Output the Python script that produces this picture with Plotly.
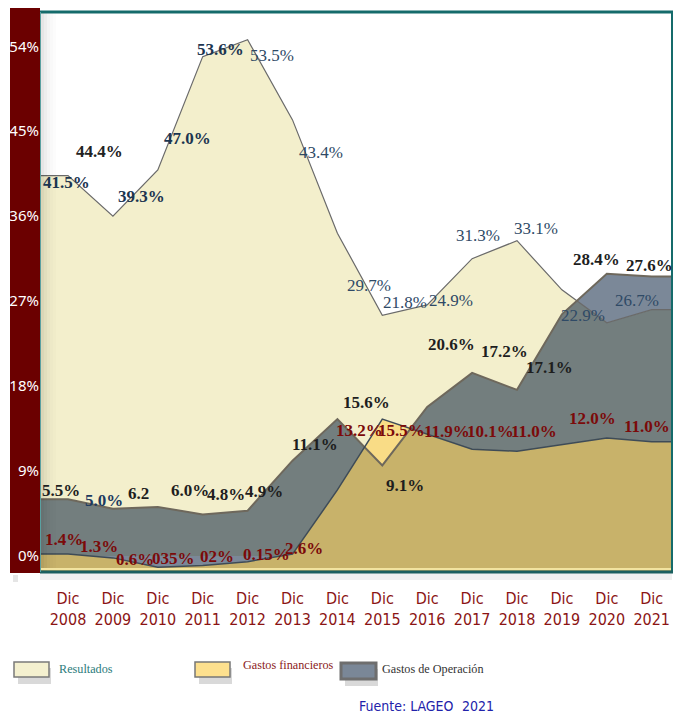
import numpy as np
import plotly.graph_objects as go

# ---------------- data (values read from the drawn shapes, % of y axis) ----------------
years = ["2008", "2009", "2010", "2011", "2012", "2013", "2014",
         "2015", "2016", "2017", "2018", "2019", "2020", "2021"]
x_labels = ["Dic<br>" + y for y in years]

resultados = [40.3, 36.0, 40.9, 52.9, 54.7, 46.2, 34.2, 25.5, 26.6, 31.5, 33.4, 28.2, 24.7, 26.1]
gastos_operacion = [6.0, 5.0, 5.2, 4.4, 4.8, 10.1, 14.5, 9.6, 15.8, 19.4, 17.6, 25.6, 29.9, 29.6]
gastos_financieros = [0.2, -0.2, -1.2, -1.0, -0.6, 0.2, 7.0, 14.5, 12.9, 11.3, 11.1, 11.8, 12.5, 12.1]

resultados_labels = ["41.5%", "44.4%", "39.3%", "47.0%", "53.6%", "53.5%", "43.4%",
                     "29.7%", "21.8%", "24.9%", "31.3%", "33.1%", "22.9%", "26.7%"]
operacion_labels = ["5.5%", "5.0%", "6.2", "6.0%", "4.8%", "4.9%", "11.1%",
                    "15.6%", "9.1%", "20.6%", "17.2%", "17.1%", "28.4%", "27.6%"]
financieros_labels = ["1.4%", "1.3%", "0.6%", "035%", "02%", "0.15%", "2.6%",
                      "13.2%", "15.5%", "11.9%", "10.1%", "11.0%", "12.0%", "11.0%"]

y_ticks = [0, 9, 18, 27, 36, 45, 54]
y_ticktext = [f"{v}%" for v in y_ticks]

# ---------------- label anchor positions (x = category index, y = % on axis) ----------------
res_lx = [-0.04, 0.71, 1.63, 2.65, 3.39, 4.54, 5.63, 6.70, 7.51, 8.53, 9.13, 10.42, 11.47, 12.67]
res_ly = [39.6, 42.8, 38.1, 44.2, 53.7, 53.0, 42.7, 28.7, 26.9, 27.1, 34.0, 34.7, 25.5, 27.1]
res_bold = [True, True, True, True, True] + [False] * 9
res_col = ["#1c3550", "#222222", "#1c3550", "#1c3550", "#1c3550"] + ["#2f4a66"] * 9

ops_lx = [-0.16, 0.80, 1.56, 2.72, 3.52, 4.37, 5.50, 6.64, 7.51, 8.55, 9.73, 10.73, 11.76, 12.96]
ops_ly = [6.9, 5.9, 6.6, 6.9, 6.5, 6.8, 11.8, 16.3, 7.5, 22.4, 21.7, 20.0, 31.4, 30.8]
ops_col = ["#1e1e1e", "#1c3a60"] + ["#1e1e1e"] * 12

fin_lx = [-0.09, 0.69, 1.49, 2.34, 3.32, 4.41, 5.26, 6.50, 7.42, 8.44, 9.40, 10.38, 11.69, 12.90]
fin_ly = [1.8, 1.0, -0.4, -0.3, -0.1, 0.2, 0.8, 13.3, 13.3, 13.2, 13.2, 13.2, 14.6, 13.7]

# ---------------- geometry ----------------
W, H = 675, 713
ML, MR, MT, MB = 40, 3, 12, 141
PW, PH = W - ML - MR, H - MT - MB
X_RANGE = [-0.624, 13.452]
Y_RANGE = [-1.695, 57.63]


def fx(p):
    return (p - ML) / PW


def fy(p):
    return (H - MB - p) / PH


n = len(years)
cat = np.arange(n, dtype=float)
xe = np.concatenate([[X_RANGE[0]], cat, [X_RANGE[1]]])


def ext(v):
    v = np.asarray(v, float)
    return np.concatenate([[v[0]], v, [v[-1]]])


res = ext(resultados)
ops = ext(gastos_operacion)
fin = ext(gastos_financieros)


def pmin(x, a, b):
    xs, ys = [], []
    for i in range(len(x) - 1):
        xs.append(x[i]); ys.append(min(a[i], b[i]))
        d0 = a[i] - b[i]; d1 = a[i + 1] - b[i + 1]
        if d0 * d1 < 0:
            t = d0 / (d0 - d1)
            xs.append(x[i] + t * (x[i + 1] - x[i]))
            ys.append(a[i] + t * (a[i + 1] - a[i]))
    xs.append(x[-1]); ys.append(min(a[-1], b[-1]))
    return np.array(xs), np.array(ys)


def band(xs, top, base):
    xs = list(xs); top = list(top)
    return xs + xs[::-1], top + [base] * len(xs)


fig = go.Figure()


def add_fill(xs, top, base, color):
    px_, py_ = band(xs, top, base)
    fig.add_trace(go.Scatter(x=px_, y=py_, mode="lines", fill="toself", fillcolor=color,
                             line=dict(width=0), hoverinfo="skip", showlegend=False))


Y0 = Y_RANGE[0]
BLUE_GRAY = "#7b8898"
BEIGE = "#f3efcc"
DARK_GRAY = "#737e7e"
YELLOW = "#f9dc86"
TAN = "#c8b26a"

add_fill(xe, ops, Y0, BLUE_GRAY)
add_fill(xe, res, 0, BEIGE)
mx, my = pmin(xe, ops, res)
add_fill(mx, my, 0, DARK_GRAY)
add_fill(xe, fin, Y0, YELLOW)
tx, ty = pmin(xe, fin, ops)
add_fill(tx, ty, Y0, TAN)

fig.add_trace(go.Scatter(x=xe, y=res, mode="lines", line=dict(color="#6a6a6a", width=1.2),
                         hoverinfo="skip", showlegend=False))
fig.add_trace(go.Scatter(x=xe, y=ops, mode="lines", line=dict(color="#6e685c", width=2),
                         hoverinfo="skip", showlegend=False))
fig.add_trace(go.Scatter(x=xe, y=fin, mode="lines", line=dict(color="#3e4b57", width=1.5),
                         hoverinfo="skip", showlegend=False))

annotations = []
SERIF = "Liberation Serif, Times New Roman, serif"
for t, x, y, b, c in zip(resultados_labels, res_lx, res_ly, res_bold, res_col):
    annotations.append(dict(x=x, y=y, xref="x", yref="y", text=(f"<b>{t}</b>" if b else t),
                            showarrow=False, xanchor="center", yanchor="middle",
                            font=dict(family=SERIF, size=17, color=c)))
for t, x, y, c in zip(operacion_labels, ops_lx, ops_ly, ops_col):
    annotations.append(dict(x=x, y=y, xref="x", yref="y", text=f"<b>{t}</b>",
                            showarrow=False, xanchor="center", yanchor="middle",
                            font=dict(family=SERIF, size=17, color=c)))
for t, x, y in zip(financieros_labels, fin_lx, fin_ly):
    annotations.append(dict(x=x, y=y, xref="x", yref="y", text=f"<b>{t}</b>",
                            showarrow=False, xanchor="center", yanchor="middle",
                            font=dict(family=SERIF, size=17, color="#7b0a0a")))

# legend texts
legend_items = [("Resultados", 57, 669, "#2b7b7b"),
                ("Gastos financieros", 241, 665, "#8b1a1a"),
                ("Gastos de Operación", 380, 669, "#333333")]
for t, xp, yp, c in legend_items:
    annotations.append(dict(x=fx(xp), y=fy(yp), xref="paper", yref="paper", text=t,
                            showarrow=False, xanchor="left", yanchor="middle",
                            font=dict(family=SERIF, size=12.2, color=c)))
SANS_N = "DejaVu Sans Condensed, Liberation Sans Narrow, Liberation Sans, sans-serif"
annotations.append(dict(x=fx(357), y=fy(706), xref="paper", yref="paper", text="Fuente: LAGEO",
                        showarrow=False, xanchor="left", yanchor="middle",
                        font=dict(family=SANS_N, size=14, color="#2222aa")))
annotations.append(dict(x=fx(460), y=fy(706), xref="paper", yref="paper", text="2021",
                        showarrow=False, xanchor="left", yanchor="middle",
                        font=dict(family=SANS_N, size=14, color="#2222aa")))

shapes = []
# dark red bar behind y tick labels
shapes.append(dict(type="rect", xref="paper", yref="paper", x0=fx(13), x1=fx(18), y0=fy(582), y1=fy(575),
                   fillcolor="rgba(0,0,0,0.10)", line=dict(width=0), layer="below"))
shapes.append(dict(type="rect", xref="paper", yref="paper", x0=fx(10), x1=fx(40), y0=fy(573), y1=fy(8),
                   fillcolor="#6b0000", line=dict(width=0), layer="below"))
# soft shadow inside plot next to bar
for i, a in enumerate([0.10, 0.07, 0.045, 0.025, 0.012]):
    shapes.append(dict(type="rect", xref="paper", yref="paper", x0=fx(41 + 3 * i), x1=fx(44 + 3 * i),
                       y0=0, y1=1, fillcolor=f"rgba(0,0,0,{a})", line=dict(width=0), layer="above"))
# shadow under plot
shapes.append(dict(type="rect", xref="paper", yref="paper", x0=fx(40), x1=fx(672), y0=fy(580), y1=fy(573),
                   fillcolor="rgba(0,0,0,0.06)", line=dict(width=0), layer="below"))
# bottom light line
shapes.append(dict(type="line", xref="paper", yref="paper", x0=fx(40), x1=fx(672), y0=fy(569), y1=fy(569),
                   line=dict(color="#f2e3a0", width=2), layer="above"))
# frame
shapes.append(dict(type="line", xref="paper", yref="paper", x0=fx(40), x1=fx(673), y0=fy(12), y1=fy(12),
                   line=dict(color="#156b6b", width=3), layer="above"))
shapes.append(dict(type="line", xref="paper", yref="paper", x0=fx(672), x1=fx(672), y0=fy(572), y1=fy(12),
                   line=dict(color="#156b6b", width=2), layer="above"))
shapes.append(dict(type="line", xref="paper", yref="paper", x0=fx(40), x1=fx(673), y0=fy(572), y1=fy(572),
                   line=dict(color="#1b5f5f", width=3), layer="above"))
shapes.append(dict(type="line", xref="paper", yref="paper", x0=fx(40.5), x1=fx(40.5), y0=fy(572), y1=fy(12),
                   line=dict(color="#5aa0a0", width=1), layer="above"))

# legend swatches with shadows
swatches = [(14, 49, 662, 677, "#f4f0cf", "#7a7a7a", 1.5),
            (195, 230, 662, 677, "#fde08e", "#777777", 1.5),
            (341, 376, 663, 679, "#7a8797", "#6e6e6e", 3)]
for x0, x1, y0, y1, fc, lc, lw in swatches:
    shapes.append(dict(type="rect", xref="paper", yref="paper", x0=fx(x0 + 4), x1=fx(x1 + 2),
                       y0=fy(y1 + 7), y1=fy(y0 + 6), fillcolor="rgba(0,0,0,0.15)",
                       line=dict(width=0), layer="above"))
    shapes.append(dict(type="rect", xref="paper", yref="paper", x0=fx(x0), x1=fx(x1),
                       y0=fy(y1), y1=fy(y0), fillcolor=fc, line=dict(color=lc, width=lw), layer="above"))

fig.update_layout(
    width=W, height=H,
    margin=dict(l=ML, r=MR, t=MT, b=MB, pad=0),
    paper_bgcolor="white", plot_bgcolor="white",
    showlegend=False,
    annotations=annotations,
    shapes=shapes,
    xaxis=dict(range=X_RANGE, tickmode="array", tickvals=list(cat), ticktext=x_labels,
               tickfont=dict(family=SANS_N, size=16, color="#8b1414"),
               ticks="outside", ticklen=12, tickcolor="rgba(0,0,0,0)",
               showgrid=False, zeroline=False, showline=False, fixedrange=True),
    yaxis=dict(range=Y_RANGE, tickmode="array", tickvals=y_ticks, ticktext=y_ticktext,
               tickfont=dict(family="Noto Sans, Open Sans, sans-serif", size=15, color="white"),
               ticks="", showgrid=False, showline=False,
               zeroline=True, zerolinecolor="rgba(150,125,60,0.55)", zerolinewidth=1,
               ticklabelstandoff=0, fixedrange=True),
)

fig.write_html("out.html", config={"displayModeBar": False},
               post_script="document.body.style.margin='0px';document.body.style.overflow='hidden';")
